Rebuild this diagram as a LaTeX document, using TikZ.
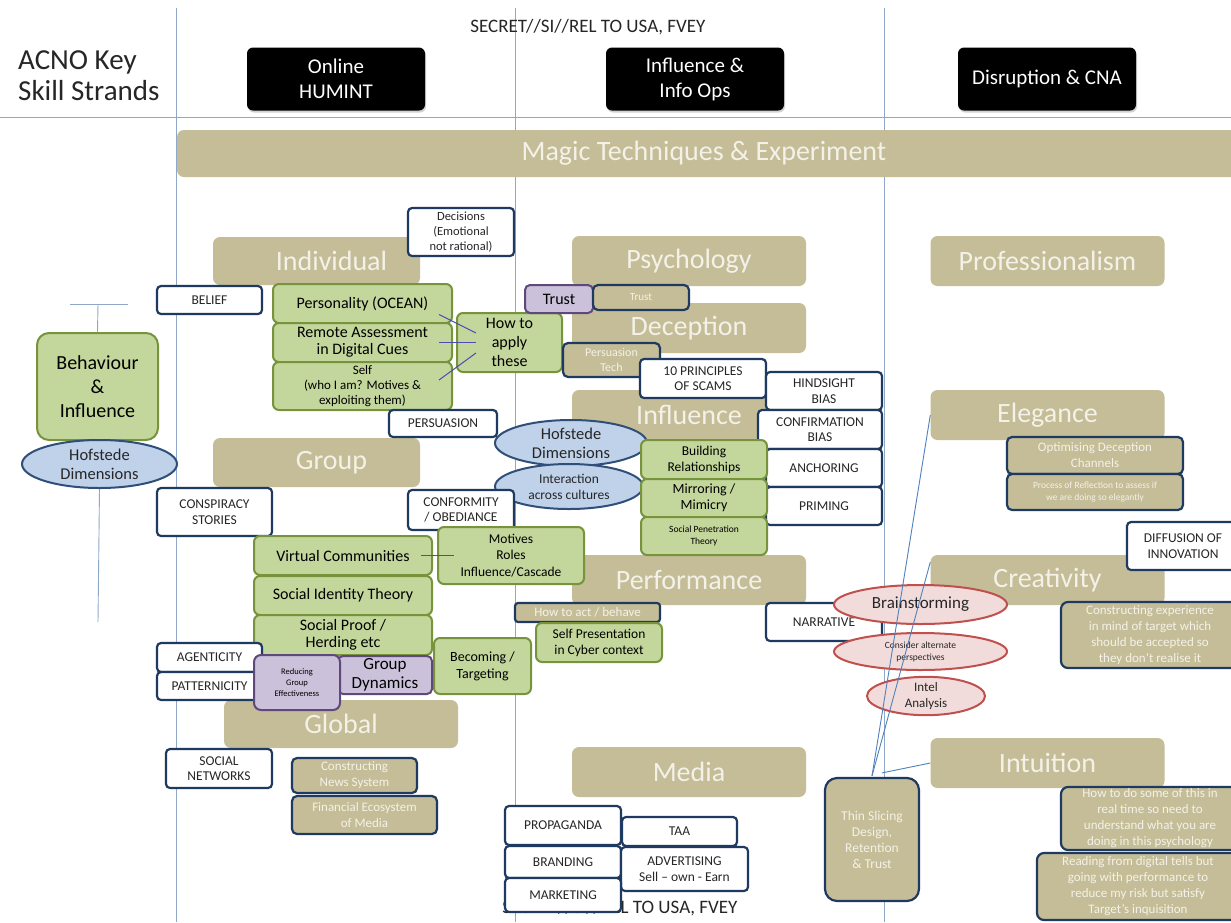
\documentclass[tikz,border=0pt]{standalone}
\usepackage{fontspec}
\setmainfont{Carlito}
\usetikzlibrary{shapes.geometric,shadows,calc}
\definecolor{tanfill}{HTML}{C4BD97}
\definecolor{cream}{HTML}{F4F2E8}
\definecolor{navy}{HTML}{1F3A60}
\definecolor{grnfill}{HTML}{C3D69B}
\definecolor{grnline}{HTML}{77933C}
\definecolor{purfill}{HTML}{CCC1DA}
\definecolor{purline}{HTML}{5F497A}
\definecolor{bluefill}{HTML}{BFD2EA}
\definecolor{blueline}{HTML}{2F4F78}
\definecolor{pinkfill}{HTML}{F2DCDB}
\definecolor{pinkline}{HTML}{C0504D}
\definecolor{gridblue}{HTML}{8FA8C8}
\definecolor{linkblue}{HTML}{4F81BD}
\definecolor{inkdark}{HTML}{262626}
\newcommand{\fsz}[2]{\fontsize{#1}{#2}\selectfont}

\begin{document}
\begin{tikzpicture}[x=1pt,y=-1pt,
  sz/.style 2 args={minimum width=#1pt, minimum height=#2pt},
  cattext/.style={text=cream, font=\fsz{28}{30}},
  cat/.style={fill=tanfill, rounded corners=7pt, cattext, inner sep=0pt, sz={234}{50}},
  hdr/.style={fill=black, text=white, rounded corners=6pt, font=\fsz{21}{25}, align=center,
    inner sep=0pt, sz={178}{63}, drop shadow={shadow xshift=1pt, shadow yshift=-2pt, opacity=.35}},
  wbox/.style={draw=navy, line width=2.2pt, fill=white, rounded corners=4pt, text=inkdark,
    font=\fsz{13.5}{15.5}, align=center, inner sep=0pt},
  tbox/.style={draw=navy, line width=2.2pt, fill=tanfill, rounded corners=5pt, text=cream,
    font=\fsz{13}{16}, align=center, inner sep=0pt},
  gbox/.style={draw=grnline, line width=2pt, fill=grnfill, rounded corners=6pt, text=black,
    font=\fsz{16}{17}, align=center, inner sep=0pt},
  pbox/.style={draw=purline, line width=2pt, fill=purfill, rounded corners=5pt, text=black,
    align=center, inner sep=0pt},
  bell/.style={ellipse, draw=blueline, line width=2pt, fill=bluefill, align=center, inner sep=0pt, text=inkdark},
  rell/.style={ellipse, draw=pinkline, line width=2pt, fill=pinkfill, align=center, inner sep=0pt, text=inkdark},
  gridline/.style={gridblue, line width=0.9pt},
  link/.style={linkblue, line width=0.9pt},
  tie/.style={draw=gray!60!blue, line width=1pt}]

\useasboundingbox (0,0) rectangle (1231,922);
\fill[white] (0,0) rectangle (1231,922);
\draw[gridline] (176,8) -- (176,922);
\draw[gridline] (515,8) -- (515,922);
\draw[gridline] (884,8) -- (884,922);
\draw[gridline] (0,117) -- (1231,117);

\node[text=inkdark, font=\fsz{29}{31}, align=left, anchor=west, inner sep=0pt] (acno) at (18,76) {ACNO Key\\Skill Strands};
\node[text=inkdark, font=\fsz{19}{21}] (sectop) at (588,27) {SECRET//SI//REL TO USA, FVEY};
\node[hdr] (hum) at (336,79) {Online\\HUMINT};
\node[hdr] (iio) at (695,79) {Influence \&\\Info Ops};
\node[hdr] (dcna) at (1047,79) {Disruption \& CNA};
\node[cat, sz={1070}{47}, label={[cattext,xshift=-8pt]center:Magic Techniques \& Experiment}] (magic) at (712,153.5) {};

\coordinate (barl) at (70,304);
\coordinate (barr) at (128,304);
\coordinate (barm) at (98,304);
\coordinate (tail) at (98,622);
\draw[gridline] (barl) -- (barr);
\node[gbox, sz={121}{107}, rounded corners=12pt, font=\fsz{20}{24}] (behav) at (97.5,386.5) {Behaviour\\\&\\Influence};
\draw[gridline] (barm) -- (behav.north);
\node[bell, sz={155}{48}, font=\fsz{16.5}{19}] (hofl) at (99.5,464) {Hofstede\\Dimensions};
\draw[gridline] (hofl.south) -- (tail);

\node[cat, sz={207}{48}, label={[cattext,xshift=15pt]center:Individual}] (indiv) at (316.5,261) {};
\node[cat, sz={207}{49}, label={[cattext,xshift=15pt]center:Group}] (group) at (316.5,462.5) {};
\node[cat] (psych) at (689,261) {Psychology};
\node[cat] (decep) at (689,328) {Deception};
\node[cat] (infl) at (689,415) {Influence};
\node[cat] (perf) at (689,580) {Performance};
\node[cat] (media) at (689,772) {Media};
\node[cat] (prof) at (1047.5,261) {Professionalism};
\node[cat] (eleg) at (1047.5,415) {Elegance};
\node[cat] (creat) at (1047.5,580) {Creativity};
\node[cat] (intu) at (1047.5,763) {Intuition};
\node[cat, sz={234}{48}] (global) at (341,724) {Global};

\node[wbox, sz={105}{28}] (belief) at (209.5,300) {BELIEF};
\node[wbox, sz={106}{48}, font=\fsz{12.5}{15}] (decis) at (461,232) {Decisions\\(Emotional\\not rational)};
\node[gbox, sz={179}{39}] (pers) at (362.5,303.5) {Personality (OCEAN)};
\node[gbox, sz={179}{39}] (remote) at (362.5,342.5) {Remote Assessment\\in Digital Cues};
\node[gbox, sz={179}{48}, font=\fsz{13}{15}] (self) at (362.5,386) {Self\\(who I am? Motives \&\\exploiting them)};
\node[gbox, sz={105}{59}, font=\fsz{16}{19}] (howto) at (509.5,342.5) {How to\\apply\\these};
\draw[tie] ($(pers.east)+(-14,11)$) -- ($(howto.west)+(20,-9.5)$);
\draw[tie] ($(remote.east)+(-14,0)$) -- ($(howto.west)+(20,0)$);
\draw[tie] ($(self.east)+(-14,-6)$) -- ($(howto.west)+(20,10.5)$);
\node[wbox, sz={108}{27}] (persu) at (443,423.5) {PERSUASION};

\node[pbox, sz={68}{28}, font=\fsz{16}{18}] (trustp) at (559,299) {Trust};
\node[tbox, sz={96}{25}, font=\fsz{11}{13}] (trustt) at (641,297.5) {Trust};
\node[tbox, sz={97}{34}, font=\fsz{12}{15}] (ptech) at (611.5,360) {Persuasion\\Tech};
\node[wbox, sz={126}{39}] (scams) at (703,378.5) {10 PRINCIPLES\\OF SCAMS};
\node[wbox, sz={116}{38}] (hind) at (824,391) {HINDSIGHT\\BIAS};
\node[wbox, sz={124}{39}] (confb) at (820,429.5) {CONFIRMATION\\BIAS};
\node[wbox, sz={116}{38}] (anch) at (824,468) {ANCHORING};
\node[wbox, sz={116}{38}] (prim) at (824,506) {PRIMING};
\node[bell, sz={152}{46}, font=\fsz{16.5}{19}] (hofc) at (571,443) {Hofstede\\Dimensions};
\node[bell, sz={148}{45}, font=\fsz{13.5}{16}] (inter) at (569,486.5) {Interaction\\across cultures};
\node[gbox, sz={126}{39}, font=\fsz{13.5}{16}] (build) at (704,459.5) {Building\\Relationships};
\node[gbox, sz={126}{38}, font=\fsz{14}{16}] (mirr) at (704,498) {Mirroring /\\Mimicry};
\node[gbox, sz={126}{38}, font=\fsz{9.5}{12}] (socpen) at (704,536) {Social Penetration\\Theory};

\node[wbox, sz={115}{48}] (consp) at (214.5,512) {CONSPIRACY\\STORIES};
\node[wbox, sz={106}{40}] (conf) at (461,510) {CONFORMITY\\/ OBEDIANCE};
\node[gbox, sz={146}{57}, font=\fsz{13.5}{16.5}] (motiv) at (511,555.5) {Motives\\Roles\\Influence/Cascade};
\node[gbox, sz={178}{39}] (virt) at (343,555.5) {Virtual Communities};
\draw[tie] ($(virt.east)+(-12,0)$) -- ($(motiv.west)+(17,0)$);
\node[gbox, sz={178}{39}] (sit) at (343,595.5) {Social Identity Theory};
\node[gbox, sz={178}{40}] (sproof) at (343,635) {Social Proof /\\Herding etc};
\node[gbox, sz={97}{56}, font=\fsz{14}{17}] (becom) at (482.5,666) {Becoming /\\Targeting};
\node[wbox, sz={105}{29}] (agent) at (209.5,657.5) {AGENTICITY};
\node[wbox, sz={105}{28}] (patt) at (209.5,686) {PATTERNICITY};
\node[pbox, sz={94}{38}, font=\fsz{17}{19}] (gdyn) at (385,675) {Group\\Dynamics};
\node[pbox, sz={86}{55}, rounded corners=7pt, font=\fsz{8.5}{11}] (reduc) at (297,682.5) {Reducing\\Group\\Effectiveness};

\node[wbox, sz={106}{39}] (socnet) at (219,768.5) {SOCIAL\\NETWORKS};
\node[tbox, sz={125}{35}] (news) at (354.5,775.5) {Constructing\\News System};
\node[tbox, sz={145}{38}] (finec) at (364.5,815) {Financial Ecosystem\\of Media};

\node[tbox, sz={145}{19}, rounded corners=3pt] (howact) at (587.5,612.5) {How to act / behave};
\node[gbox, sz={126}{39}, font=\fsz{13.5}{16}] (selfp) at (599,642.5) {Self Presentation\\in Cyber context};
\node[wbox, sz={116}{38}] (narr) at (824,622) {NARRATIVE};
\node[rell, sz={173}{39}, font=\fsz{17}{19}] (brain) at (920.5,604.5) {Brainstorming};
\node[rell, sz={173}{37}, font=\fsz{9.5}{12}] (consid) at (920.5,651.5) {Consider alternate\\perspectives};
\node[rell, sz={118}{38}, font=\fsz{13}{16}] (intel) at (926,696) {Intel\\Analysis};

\node[text=inkdark, font=\fsz{19}{21}] (secbot) at (620,908) {SECRET//SI//REL TO USA, FVEY};
\node[wbox, sz={116}{39}] (propa) at (563,825.5) {PROPAGANDA};
\node[wbox, sz={115}{29}] (taa) at (679.5,831.5) {TAA};
\node[wbox, sz={116}{32}] (brand) at (563,862) {BRANDING};
\node[wbox, sz={127}{44}] (advert) at (684.5,869) {ADVERTISING\\Sell -- own - Earn};
\node[wbox, sz={116}{34}] (market) at (563,895) {MARKETING};

\node[tbox, sz={94}{123}, rounded corners=12pt, font=\fsz{13.5}{16}] (thin) at (872,839.5) {Thin Slicing\\Design,\\Retention\\\& Trust};
\draw[link] ($(thin.north)+(0,-1)$) -- (eleg.west);
\draw[link] ($(thin.north)+(0,-1)$) -- ($(creat.west)+(0,-18)$);
\draw[link] ($(thin.north)+(10,-4)$) -- (intu.west);

\node[tbox, sz={176}{37}] (optim) at (1095,455.5) {Optimising Deception\\Channels};
\node[tbox, sz={176}{36}, font=\fsz{9.5}{12}] (procr) at (1095,492) {Process of Reflection to assess if\\we are doing so elegantly};
\node[wbox, sz={112}{48}] (diffu) at (1183,546) {DIFFUSION OF\\INNOVATION};
\node[tbox, sz={178}{66}, rounded corners=7pt] (constr) at (1150,635) {Constructing experience\\in mind of target which\\should be accepted so\\they don't realise it};
\node[tbox, sz={178}{63}, rounded corners=7pt] (howdo) at (1150,818.5) {How to do some of this in\\real time so need to\\understand what you are\\doing in this psychology};
\node[tbox, sz={202}{67}, rounded corners=7pt] (readg) at (1138,886.5) {Reading from digital tells but\\going with performance to\\reduce my risk but satisfy\\Target's inquisition};
\end{tikzpicture}
\end{document}
